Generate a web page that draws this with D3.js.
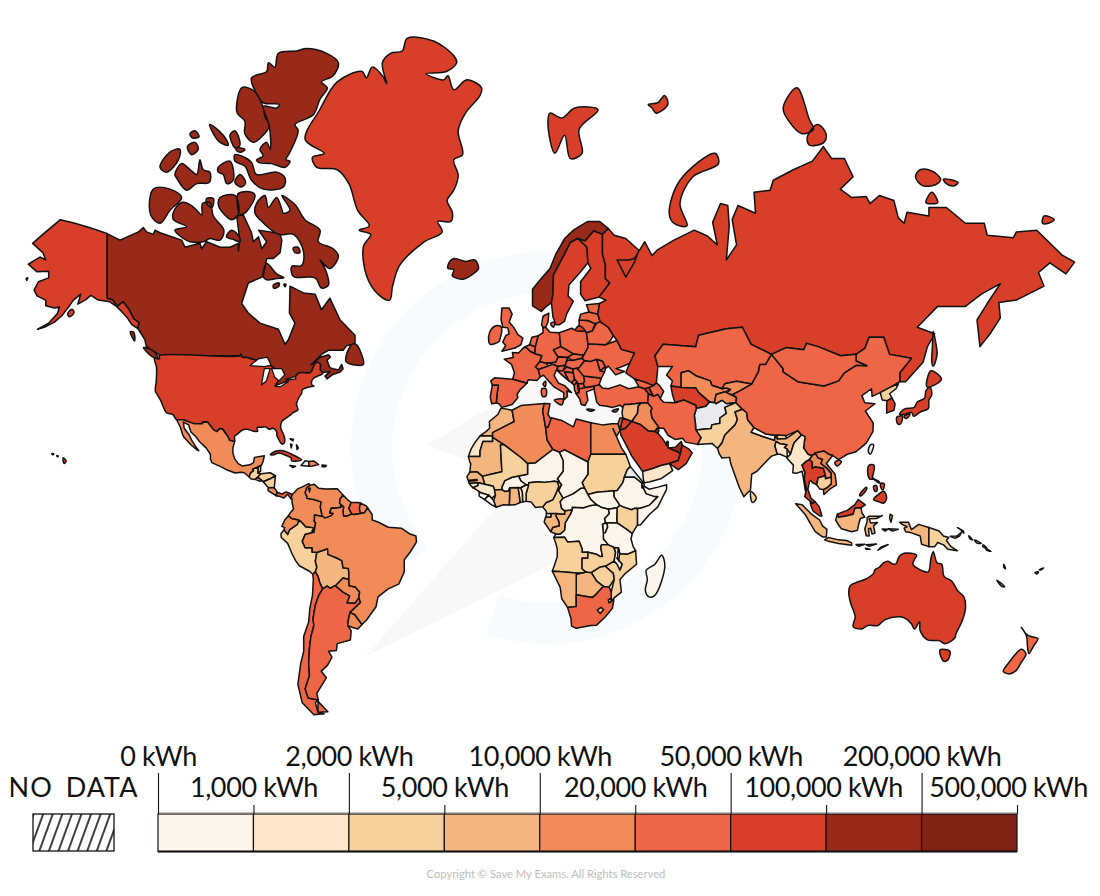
<!DOCTYPE html>
<html>
<head>
<meta charset="utf-8">
<script src="https://cdn.jsdelivr.net/npm/d3@7"></script>
<style>
body{margin:0;background:#fff}
svg{display:block}
text{font-family:Lato,"Open Sans",sans-serif}
</style>
</head>
<body>
<svg width="1100" height="896"></svg>
<script>
// legend steps, kWh per person per year
var breaks=[0,1000,2000,5000,10000,20000,50000,100000,200000,500000];
var majorTicks=[0,2000,10000,50000,200000];
var minorTicks=[1000,5000,20000,100000,500000];
var colours=["#fdf5e9","#fde6c9","#f7d19c","#f4b57f","#f18c59","#ee6646","#d73f29","#992a1a","#7f2315"];
var noDataColour="#e8eaee";

var countries=[
"Canada","USA","Greenland","Iceland","Mexico","Guatemala","Belize","Honduras","El Salvador","Nicaragua","Costa Rica","Panama","Cuba","Haiti","Dominican Rep","Jamaica","Puerto Rico","Bahamas",
"Colombia","Venezuela","Guyana","Suriname","French Guiana","Ecuador","Peru","Bolivia","Chile","Argentina","Paraguay","Uruguay","Brazil",
"Norway","Sweden","Finland","Denmark","UK","Ireland","France","Spain","Portugal","Belgium","Netherlands","Germany","Poland","Czechia","Slovakia","Austria","Switzerland","Italy","Slovenia","Hungary","Croatia","Bosnia","Serbia","Montenegro","Albania","North Macedonia","Greece","Bulgaria","Romania","Moldova","Ukraine","Belarus","Lithuania","Latvia","Estonia","Svalbard",
"Russia","Kazakhstan","Uzbekistan","Turkmenistan","Kyrgyzstan","Tajikistan","Afghanistan","Pakistan","India","Nepal","Bhutan","Bangladesh","Sri Lanka","China","Mongolia","North Korea","South Korea","Japan","Taiwan","Myanmar","Thailand","Laos","Vietnam","Cambodia","Malaysia","Indonesia","Papua New Guinea","Philippines","Pacific Islands",
"Turkey","Georgia","Armenia","Azerbaijan","Iran","Iraq","Syria","Jordan","Israel","Saudi Arabia","Qatar","Kuwait","UAE","Oman","Yemen","Cyprus",
"Morocco","Western Sahara","Mauritania","Algeria","Tunisia","Libya","Egypt","Sudan","South Sudan","Eritrea","Ethiopia","Djibouti","Somalia","Kenya","Uganda","Rwanda","Tanzania","DR Congo","Congo","Gabon","Equatorial Guinea","Cameroon","CAR","Chad","Niger","Nigeria","Benin","Togo","Ghana","Burkina Faso","Mali","Senegal","Gambia","Guinea-Bissau","Guinea","Sierra Leone","Liberia","Ivory Coast","Angola","Zambia","Malawi","Mozambique","Zimbabwe","Botswana","Namibia","South Africa","Lesotho","Eswatini","Madagascar",
"Australia","New Zealand"];
var kwh=[
110000,79000,60000,160000,17000,4500,7000,4800,4200,4500,12000,25000,55000,null,12000,9000,60000,30000,
12000,17000,15000,25000,15000,14000,4900,8000,30000,28000,14000,15000,16000,
115000,60000,62000,35000,30000,35000,40000,35000,28000,48000,45000,40000,30000,45000,33000,38000,30000,30000,40000,25000,24000,30000,28000,24000,24000,24000,30000,30000,24000,24000,28000,30000,30000,24000,45000,60000,
60000,45000,18000,55000,15000,14000,null,4500,7000,900,4500,1800,4500,28000,25000,4000,65000,52000,null,1800,56000,15000,14000,4800,55000,8000,4500,51000,null,
25000,27000,58000,45000,35000,14000,8500,60000,35000,82000,250000,120000,130000,85000,1800,30000,
8000,1500,7000,16000,25000,28000,17000,4000,600,null,700,1500,500,4000,800,600,600,500,8000,8500,null,4500,400,300,800,4500,1500,1800,5200,800,4500,7000,1800,1500,1200,400,500,7500,4500,4500,600,4000,4000,8000,8000,33000,4500,4500,600,
65000,42000];

// outlines as lon,lat, rings split by |
var outlines={
"USA":"-141,69.6 -141,60.3 -139,60 -137.5,58.9 -135.5,59.7 -133.5,58.4 -131.8,56.6 -130,55.9 -130.5,54.8 -132.5,55.5 -134,56.8 -136,58 -138,59 -140,59.7 -144,60 -146.5,60.8 -148.5,60 -151,59.3 -150,61 -152.5,60 -154,58.9 -156.5,57.2 -159,56 -162.5,55 -164.8,54.6 -161,55.8 -158,57.6 -157.3,58.8 -159,58.6 -162,59 -162,60 -165,60.7 -166,61.7 -164.5,63 -161,63.6 -161,64.6 -165,64.5 -168,65.6 -164,66.6 -162,66.2 -163,67.2 -166.5,68.4 -163,69.5 -157,71.2 -152,70.8 -146,70.2|-123,49 -95.2,49 -95.1,49.4 -94.6,48.7 -93,48.6 -91,48.2 -89.5,48 -88.3,48.3 -84.9,46.9 -84.5,46.5 -83.5,46 -83.6,45.8 -82.5,45.3 -82.1,43.6 -82.4,43 -82.5,42.6 -83.1,42.1 -82.7,41.7 -81,42.2 -79,42.7 -79,43.3 -79.2,43.5 -76.8,43.6 -76.3,44.2 -75,45 -71.5,45 -70.8,45.4 -70,46.7 -69.2,47.45 -68.3,47.35 -67.8,47.05 -67.8,45.7 -67.2,45.2 -67,44.8 -69,44.1 -70.2,43.6 -70.8,42.8 -70.6,41.9 -70,41.7 -71.4,41.5 -72.8,41.2 -74,40.7 -74.2,39.8 -75,38.9 -75.9,37.2 -76,36.9 -75.5,35.3 -77,34.6 -78,33.9 -79.2,33.2 -81,32 -81.4,30.8 -81.3,29.8 -80.5,28.3 -80,26.8 -80.2,25.5 -81,25.2 -81.8,26.2 -82.7,27.8 -82.8,29 -84,30 -85.3,29.7 -86.5,30.4 -88,30.3 -89.5,30.2 -89.3,29.1 -91,29.2 -93,29.7 -94.7,29.4 -96,28.4 -97.2,27.6 -97.2,26 -99,26.4 -99.5,27.5 -100.4,28.6 -101.4,29.8 -102.5,29.8 -103.2,29 -104.5,29.6 -106.5,31.8 -108.2,31.8 -108.2,31.3 -111,31.3 -114.8,32.5 -117.1,32.5 -118.4,34 -120.6,34.5 -121.9,36.6 -122.5,37.8 -123.8,39.5 -124.4,40.4 -124.1,43 -124,46.3 -124.7,48.4 -123,48.3|-154.5,57.5 -153,58.4 -152.3,57.8 -153.8,57|-160,22.2 -159.3,22.2 -159.4,21.8|-158.2,21.6 -157.7,21.4 -158,21.2|-156,20.9 -155,19.8 -155.7,19 -156,19.7|-168.7,63.5 -168.2,63.6 -168.5,63.2",
"Canada":"-141,69.6 -136.5,68.8 -130.2,69.8 -128.5,70.3 -127.4,69.8 -125.1,69.5 -124.5,70 -122.8,69.7 -115.4,68.8 -114.2,67.9 -109.1,68.4 -108.5,67.7 -106.8,68.6 -102.2,67.9 -98.8,67.9 -95.9,68.4 -95.9,67.4 -95.4,68.8 -96.5,71.6 -94.2,71.7 -91.4,69.7 -90.8,68.6 -89,69.2 -87.9,67.7 -86.2,68.6 -89,70 -85,69.8 -81.6,69.5 -81,68.8 -81.6,67.2 -83.9,66.4 -86.2,66.4 -87.4,63.8 -92.5,62.8 -94.8,59.4 -92.5,57.7 -88.5,55.8 -82.2,54.6 -79.9,51.5 -78.8,52.4 -76.5,55.8 -78.4,57.7 -78.2,62.3 -73.6,61.2 -69.6,61 -67.4,58.3 -64.5,60.3 -61,56.4 -55.9,53.4 -55.9,51.7 -58.8,51.2 -60,50.2 -65,50.2 -67,49.5 -69,48.2 -71,46.9 -70,47.3 -68,48.6 -65,49.2 -64.3,48.7 -65.5,48 -65,47 -64.5,46.2 -63.5,46 -61.5,45.7 -60.5,47 -60,46 -61,45.2 -63.5,44.6 -65.5,43.5 -66.2,44.2 -64.5,45.3 -67,45.1 -67.2,45.2 -67.8,45.7 -67.8,47.05 -68.3,47.35 -69.2,47.45 -70,46.7 -70.8,45.4 -71.5,45 -75,45 -76.3,44.2 -76.8,43.6 -79.2,43.5 -79,43.3 -79,42.7 -81,42.2 -82.7,41.7 -83.1,42.1 -82.5,42.6 -82.4,43 -82.1,43.6 -82.5,45.3 -83.6,45.8 -83.5,46 -84.5,46.5 -84.9,46.9 -88.3,48.3 -89.5,48 -91,48.2 -93,48.6 -94.6,48.7 -95.1,49.4 -95.2,49 -123,49 -123.2,49.3 -125,50 -127.5,51 -128,52.5 -130,54.4 -130.5,54.8 -130,55.9 -131.8,56.6 -133.5,58.4 -135.5,59.7 -137.5,58.9 -139,60 -141,60.3|-89.7,72.9 -86.8,73.7 -85.6,72.5 -82.8,73.5 -81,72.3 -80.5,71.9 -78.2,72.2 -81,73.7 -76.5,72.8 -73.1,71.2 -67.9,70 -68.5,68.6 -63.4,67.7 -61.6,66.7 -64.5,65 -67.9,66.2 -66.2,65 -65,62.5 -67.4,62 -69.6,63.6 -77,63.8 -77.6,65.3 -74.2,65.4 -73.6,67.4 -77,69.5 -82.2,69.5 -88.5,71.2 -90.2,71.9|-118.2,72 -115.4,73 -112.5,72.8 -110.2,72.2 -108.5,71.7 -108.2,72.9 -105.7,73 -104.5,71.6 -100.9,70 -102.2,68.8 -105.7,69 -107.9,68.6 -112.5,68.6 -114.8,69 -117.7,70 -113.7,70.4 -118.2,71.2|-125.1,74.3 -119.4,74.3 -115.4,73.5 -119.4,72.2 -122.8,70.8 -126,71.7|-117.7,75.6 -115.4,76.5 -112,75.9 -110.2,75.6 -109.1,76.8 -108,76 -105.7,75.8 -105.9,74.9 -110.2,74.8 -113.7,74.2 -117.1,75.3|-122.8,76.2 -119.4,77.4 -116,77.6 -116.5,76.8 -120.5,75.8|-113.4,77.8 -110.8,78.1 -109.7,77.6 -112,77.2|-112.5,78.7 -110.8,78.9 -109.4,78.5 -111.6,78.4|-105.7,79.3 -101.1,78.6 -99.4,77.9 -102.2,78.1 -104.5,78.7|-98.8,78.6 -97.1,78.9 -95.4,77.9 -97.1,77.7 -98.2,78.1|-96.7,77.7 -93.7,77.6 -94.8,77.4 -96.5,77.5|-102.8,76.2 -98.8,76.7 -97.7,75.1 -99.9,74.8 -101.1,75.6 -102.8,75.8|-95.4,75.6 -93.4,74.9 -94.8,74.5 -97.1,74.9|-97.1,77.2 -94.8,77.1 -91.4,76.6 -89.7,75.6 -82.8,75.8 -79.9,75.3 -80.5,74.5 -87.4,74.3 -91.4,75.1 -93.7,76.3 -97.1,76.7|-95.9,73.9 -91.4,74 -90.2,73.7 -93.7,71.9 -95.4,71.8 -96.3,72.9|-102.2,73.5 -97.1,73.7 -95.9,71.8 -98.2,71.2 -101.1,71.9 -102.8,72.8|-106.8,73.4 -104.5,73.4 -105,72.5 -106.8,72.9|-100,69.2 -98.2,70 -95.6,69.2 -95.4,68.6 -97.7,68.9|-94.8,81.4 -92.5,81.4 -89.7,81.1 -87.4,80.3 -86.8,79.8 -85.3,79.2 -87.9,78.5 -90.8,78.1 -93.7,78.7 -93.7,79.5 -96.3,80 -96.5,80.5|-91.4,81.9 -86.2,82.2 -85.6,82.6 -83.4,82.4 -82.2,83 -75.9,83.1 -72.5,83.2 -65.6,83 -61.6,82.6 -63.4,82 -67.4,81.7 -65.4,81.4 -67.9,80.8 -70.2,79.9 -76.5,79.3 -75.4,78.9 -78.2,77.4 -79.6,76.8 -78.2,76.7 -79.9,76.2 -84.5,76.5 -89,76.6 -89.7,76.8 -87.4,77.1 -88.5,77.6 -86.2,78.1 -85,77.6 -85.3,79.2 -86.8,80 -87.4,80.4 -82.8,80.3 -81.9,80.5 -87.4,80.6 -89.7,81.1|-86.2,65.7 -82.8,64.2 -80.3,63.6 -82.8,63.5 -86.2,63.3 -87.4,63.8|-83.9,62.5 -81.9,62.8 -82.2,62.2 -83.8,62|-80.3,62.6 -79.6,62.6 -79.9,62.2|-77.1,67.8 -75.5,67.9 -74.8,67.2 -76.5,67.2|-59,47.7 -57,51.5 -55.5,51.5 -53,47 -55,46.8|-128.5,50.8 -125,50 -123.5,48.4 -125.5,48.8|-133,54.1 -131.8,54 -131.5,52.2",
"Greenland":"-73,78.3 -68,80.2 -62,81.7 -53.5,82.2 -52,81.9 -50,82.4 -46.5,82 -45,81.6 -46.5,82.6 -43.7,83 -39.7,83.1 -38,83.6 -29,83.5 -22,82.9 -21,82.6 -24.5,82.2 -31.5,82.1 -25.5,81.8 -24,82 -22,81.3 -17.5,81.8 -12.5,81.4 -13,81 -18,80 -20.5,78.9 -19,77.2 -22,76.8 -20.5,75.5 -22,74.2 -24.3,73.2 -22.5,72 -23,71 -27.5,71 -26,69.8 -32.5,68.5 -40.5,65.5 -43,62.3 -44,60 -48,61 -52,64 -53,68 -50.5,69.5 -54.5,70 -51,70.5 -55,72.2 -58,74.8 -62,76 -69,76.2 -70.5,77 -66.5,77.3",
"Iceland":"-24,65.5 -22,66.4 -18,66 -14.8,66.2 -13.5,65 -16,64 -18.7,63.4 -22.5,63.9 -22,64.8 -24,65",
"Mexico":"-117.1,32.5 -114.8,32.5 -111,31.3 -108.2,31.3 -108.2,31.8 -106.5,31.8 -104.5,29.6 -103.2,29 -102.5,29.8 -101.4,29.8 -100.4,28.6 -99.5,27.5 -99,26.4 -97.2,26 -97.8,24 -97.8,22.5 -97.2,20.6 -96,19 -94.5,18.2 -92,18.6 -90.7,19.3 -90.4,21 -87,21.5 -87.5,19.5 -88,18.5 -89.1,17.9 -91,17.2 -90.7,16.6 -91.7,16 -92.2,14.6 -93.9,16 -95,16.2 -97,15.9 -100,17 -102,18 -105,19.3 -105.5,20.5 -105.5,22 -107,24 -109.3,26 -110.5,27.5 -112.2,28.9 -113,31 -114.8,31.8 -114.5,30 -112.8,28 -112,26.5 -110.5,24.3 -109.5,23.1 -110.3,23.5 -112.2,25 -114.5,27.2 -115,28 -115.8,30.3",
"Guatemala":"-92.2,14.6 -91.7,16 -90.7,16.6 -91,17.2 -89.1,17.9 -89.2,15.9 -88.2,15.7 -89.3,14.5 -90.1,13.8 -91.5,13.9",
"Belize":"-89.1,17.9 -88.2,18.4 -88.3,16.5 -89.2,15.9",
"Honduras":"-88.2,15.7 -85,16 -83.2,15 -85,14 -87.4,13 -87.8,13.4 -89.3,14.5",
"El Salvador":"-90.1,13.8 -89.3,14.5 -87.8,13.4 -88.5,13.2",
"Nicaragua":"-87.4,13 -85,14 -83.2,15 -83.6,11 -85.7,11.1",
"Costa Rica":"-85.7,11.1 -83.6,11 -82.6,9.5 -83,8.3 -85.7,10",
"Panama":"-83,8.3 -82.6,9.5 -81,8.9 -79.5,9.6 -77.4,8.7 -77.9,7.3 -79,8.8 -80.3,7.5 -81.5,8",
"Cuba":"-85,21.9 -83,23 -80.5,23.1 -77,21.7 -74.2,20.2 -77.7,19.9 -77.8,20.8 -79.5,21.6 -82,22.4 -84,21.8",
"Haiti":"-74.4,18.4 -73,19.9 -71.7,19.7 -71.7,18.1",
"Dominican Rep":"-71.7,19.7 -70,19.8 -68.4,18.7 -70.5,18.2 -71.7,18.1",
"Jamaica":"-78.3,18.4 -76.3,18.1 -77.2,17.7",
"Puerto Rico":"-67.2,18.5 -65.7,18.4 -66,18 -67.2,18",
"Bahamas":"-78.2,26.8 -77,26.7 -77.2,26.2|-78,25.2 -77.5,25 -77.8,24|-76,25 -75.3,24 -75.8,23.5",
"Colombia":"-77.4,8.7 -75.6,10.6 -74,11.3 -71.7,12.4 -71.3,11.8 -72.4,11 -73,9.3 -72.4,8 -72.4,7.4 -70,7 -67.5,6.2 -67.8,4.5 -67.3,2 -67,1.2 -69.8,1.7 -69.8,0 -70,-0.2 -69.4,-1 -70,-4.2 -70.7,-3.8 -70,-2.7 -72.8,-2.4 -74.5,-0.5 -75.3,0 -77.5,0.4 -78.8,1.4 -78,2.6 -77,3.8 -77.5,6 -77.5,7.2 -77.9,7.3",
"Venezuela":"-71.3,11.8 -70,12.2 -68.3,10.8 -66,10.6 -62,10.7 -60.8,9.4 -60,8.5 -61,7.2 -61.2,5.9 -60.7,5.2 -60.7,4.4 -62.8,4 -64,4.1 -64.6,2.5 -63.4,2.2 -64,1.5 -65.5,0.9 -66.3,0.7 -67,1.2 -67.3,2 -67.8,4.5 -67.5,6.2 -70,7 -72.4,7.4 -72.4,8 -73,9.3 -72.4,11",
"Guyana":"-60,8.5 -58.5,7 -57.2,6 -58,4 -57,2 -58.8,1.3 -59.8,1.3 -60,2.5 -60,3.3 -59.8,4.5 -60.7,5.2 -61.2,5.9 -61,7.2",
"Suriname":"-57.2,6 -55,6 -54,5.8 -54.4,4 -54,2.2 -56,1.9 -57,2 -58,4",
"French Guiana":"-54,5.8 -52,4.8 -51.6,4.2 -52.6,2.5 -54,2.2 -54.4,4",
"Ecuador":"-80,0 -78.8,1.4 -77.5,0.4 -75.3,0 -75.3,-0.5 -75.6,-1.5 -78.3,-3.4 -79,-5 -80.3,-3.4 -80,-2.6 -81,-2.2",
"Peru":"-81.3,-4.7 -80.3,-3.4 -79,-5 -78.3,-3.4 -75.6,-1.5 -75.3,-0.5 -74.5,-0.5 -72.8,-2.4 -70,-2.7 -70.7,-3.8 -70,-4.2 -73,-5 -74,-7.3 -73,-9.5 -70.6,-9.5 -70.6,-11 -69,-11 -69.5,-14 -69,-16 -69.5,-17.5 -70.4,-18.3 -71.4,-17.4 -75,-15.5 -76.3,-13.8 -77.5,-11.5 -79,-8 -81.2,-6",
"Bolivia":"-69,-11 -68.8,-11 -65.3,-9.8 -65.2,-11.7 -62,-13 -60.4,-13.8 -60,-16.2 -58.2,-16.4 -58,-17.8 -58,-20 -60,-19.5 -62.6,-22 -63,-22 -64.3,-22.8 -65.5,-22.1 -67,-23 -68,-21 -68.6,-19 -69.5,-17.5 -69,-16 -69.5,-14",
"Chile":"-69.5,-17.5 -68.6,-19 -68,-21 -67,-23 -68.3,-25 -69.5,-28 -70.3,-32 -70,-34 -71,-37 -71.5,-40 -71.8,-44 -71.5,-47 -73,-50 -72,-52 -68.5,-52.4 -69.5,-53 -68.6,-54.9 -66.5,-55.2 -70,-55.4 -74,-53 -75.5,-49 -74.5,-44 -73.5,-41 -73.5,-37 -71.8,-33 -71.4,-29 -70.5,-25 -70.2,-20 -70.4,-18.3",
"Argentina":"-65.5,-22.1 -64.3,-22.8 -63,-22 -62.6,-22 -60,-24 -57.7,-25.2 -58.6,-27.3 -55.9,-27.4 -54.6,-25.7 -54,-27.2 -57.6,-30.2 -58.2,-32.5 -58.4,-34 -57.2,-35.5 -57.5,-38 -62,-39 -62.3,-40.8 -65,-41 -63.8,-42.5 -65.3,-44.5 -67.5,-46 -65.7,-47.5 -69,-51 -68.5,-52.4 -72,-52 -73,-50 -71.5,-47 -71.8,-44 -71.5,-40 -71,-37 -70,-34 -70.3,-32 -69.5,-28 -68.3,-25 -67,-23|-68.6,-52.7 -68.6,-54.9 -65.2,-54.8",
"Paraguay":"-62.6,-22 -60,-19.5 -58,-20 -57.9,-22 -55.8,-22.4 -54.3,-24 -54.6,-25.7 -55.9,-27.4 -58.6,-27.3 -57.7,-25.2 -60,-24",
"Uruguay":"-58.4,-34 -58.2,-32.5 -57.6,-30.2 -56,-30.8 -53.5,-33.7 -54.9,-35 -57,-34.5",
"Brazil":"-51.6,4.2 -50,1.8 -50,0 -48,-0.7 -44.5,-2.5 -40,-2.8 -37,-4.8 -35,-5.5 -34.8,-7.5 -37,-11 -39,-13.5 -39,-17.5 -40.9,-21.5 -44.5,-23 -48,-25.5 -48.7,-28.5 -52,-32.5 -53.5,-33.7 -56,-30.8 -57.6,-30.2 -54,-27.2 -54.6,-25.7 -54.3,-24 -55.8,-22.4 -57.9,-22 -58,-20 -58,-17.8 -58.2,-16.4 -60,-16.2 -60.4,-13.8 -62,-13 -65.2,-11.7 -65.3,-9.8 -68.8,-11 -70.6,-11 -70.6,-9.5 -73,-9.5 -74,-7.3 -73,-5 -70,-4.2 -69.4,-1 -70,-0.2 -69.8,0 -69.8,1.7 -67,1.2 -66.3,0.7 -65.5,0.9 -64,1.5 -63.4,2.2 -64.6,2.5 -64,4.1 -62.8,4 -60.7,4.4 -60.7,5.2 -59.8,4.5 -60,3.3 -60,2.5 -59.8,1.3 -58.8,1.3 -57,2 -56,1.9 -54,2.2 -52.6,2.5",
"Norway":"5,59 5,61.8 8,63.5 11,65 13,67 16,69 19,70 24,71 28,71 31,70.2 29,69.5 26,69.9 23,68.7 20.5,69 18,68.5 16,67 14,65.5 12.2,64 12,61 11.5,59.5 10,59 8,58",
"Sweden":"11.5,59.5 12,61 12.2,64 14,65.5 16,67 18,68.5 20.5,69 23.7,67.9 24,65.8 21.5,64.5 17.5,62.5 17.2,60.7 19,59.8 16.7,57.5 16,56.2 14.3,55.5 13,55.5 12,57",
"Finland":"20.5,69 23,68.7 26,69.9 29,69.5 29,67 30,65.5 30,63.5 31.5,62.8 27.8,60.5 23,59.9 21.5,61 21.5,63 25,65 24,65.8 23.7,67.9",
"Denmark":"8.1,55.5 8.6,57.1 10.6,57.7 10.3,56 9.5,55 8.6,54.9|11.2,55.7 12.5,56 12.2,55",
"UK":"-5.5,58.6 -3,58.6 -2,57.5 -3,56 -1.5,55 0,53.5 1.7,52.8 1,51.4 -1,50.7 -5.5,50 -4.2,51.2 -5.2,52 -4.2,53.3 -3,53.7 -3.5,54.9 -5.2,55 -5.8,56.5",
"Ireland":"-10,52 -9.7,54 -8,55.2 -6,55.2 -5.5,54.5 -6,53 -6.5,52.1 -9.5,51.5",
"France":"2.5,51 4.2,50 5.8,49.5 8.2,49 7.5,47.6 6,46.4 7,45.8 7.6,44 6.5,43.1 3.5,43.3 3.1,42.4 -1.8,43.4 -1.2,45 -2.2,47 -4.7,48.2 -1.6,48.6 -1.9,49.7 0.2,49.6 1.5,50.5|8.6,42.2 9.5,42.9 9.4,41.5",
"Spain":"-9.3,43 -8,43.8 -1.8,43.4 3.1,42.4 0.7,40.7 -0.3,39.5 0,38.7 -2,36.8 -5.5,36 -6.5,37 -7.4,37.2 -7.2,39.5 -6.7,41.9 -8.8,41.9",
"Portugal":"-8.8,41.9 -6.7,41.9 -7.2,39.5 -7.4,37.2 -9,37 -9.5,38.8",
"Belgium":"2.5,51 4,51.4 6,51 5.8,49.5 4.2,50",
"Netherlands":"4,51.4 4.8,53 7,53.3 6,51",
"Germany":"6,51 7,53.3 8.6,53.9 8.6,54.9 9.5,55 11,54 14.2,53.9 14.7,51 12.2,50.3 13.8,48.7 13,47.5 9.6,47.3 7.5,47.6 8.2,49 5.8,49.5",
"Poland":"14.2,53.9 18.5,54.8 19.7,54.4 23,54.3 23.5,53.9 23.8,52.7 24,51.6 24,50.8 22.6,49.1 19,49.4 14.7,51",
"Czechia":"12.2,50.3 14.7,51 19,49.4 17,48.6 14.7,48.7 13.8,48.7",
"Slovakia":"17,48.6 19,49.4 22.6,49.1 22,48.4 18.8,47.9",
"Austria":"9.6,47.3 13,47.5 13.8,48.7 17,48.6 16.2,46.8 13.7,46.5 12,47",
"Switzerland":"6,46.4 7.5,47.6 9.6,47.3 10.4,46.6 7,45.8",
"Italy":"7,45.8 10.4,46.6 12,47 13.7,46.5 12.4,44.3 14,42.4 16,41.8 18.4,40 16.8,40.4 17,39 15.7,38 15.7,40 12.5,41.4 10.5,43 8.8,44.4 7.6,44|8.2,41 9.6,41 9.6,39.1 8.4,39|12.5,38 15.5,38.2 15,36.7",
"Slovenia":"13.7,46.5 16.2,46.8 15.5,45.5 13.6,45.5",
"Hungary":"16.2,46.8 17,48 18.8,47.9 22,48.4 22.9,47.9 21,46.2 18.8,45.9 16.7,46.4",
"Croatia":"13.6,45.5 15.5,45.5 16.7,46.4 18.8,45.9 19,45 16,45.2 17.5,43 15,44.5",
"Bosnia":"16,45.2 19,45 19.4,43.5 18.5,42.5 17.5,43",
"Serbia":"19,45 18.8,45.9 20.3,46.1 22.5,44.5 22.9,43 22.4,42.3 20.7,42.3 19.4,43.5",
"Montenegro":"18.5,42.5 19.4,43.5 20.3,42.8 19.3,41.9",
"Albania":"19.3,41.9 20.3,42.8 20.6,41 21,40 20,39.7 19.4,40.7",
"North Macedonia":"20.7,42.3 22.4,42.3 23,41.3 21,40.9",
"Greece":"20,39.7 21,40 21,40.9 23,41.3 26.2,41.7 26,40.9 23.5,40.2 24,38 23,36.5 21.7,36.8 21.2,38.3|23.6,35.5 26.3,35.3 24.8,34.9",
"Bulgaria":"22.9,43 22.5,44.2 27.7,43.8 28.6,43.6 27.8,42 26.2,41.7 23,41.3 22.4,42.3",
"Romania":"21,46.2 22.9,47.9 24.9,47.7 27,48.2 28.2,45.5 29.7,45.2 28.6,43.6 27.7,43.8 22.5,44.2 20.3,46.1",
"Moldova":"27,48.2 29,47.8 30,46.5 28.2,45.5",
"Ukraine":"24,51.6 30,51.4 34,52.3 35.5,50.4 40,49.6 38.3,47.2 35,46.3 33.6,46 36.5,45.3 33.5,44.5 32.5,45.4 31,46.6 30,46 29.7,45.2 28.2,45.5 30,46.5 29,47.8 27,48.2 24.9,47.7 22.9,47.9 22,48.4 22.6,49.1 24,50.8",
"Belarus":"23.8,52.7 23.5,53.9 25.5,54.3 27,55.8 28.2,56.1 31,55 32.8,53.3 31.5,52.1 30,51.4 24,51.6",
"Lithuania":"21,55.3 21,56.4 24,56.3 26.5,55.7 25.5,54.3 23.5,53.9 23,54.3",
"Latvia":"21,56.4 21.5,57.5 24.4,57.9 27.4,57.5 28.2,56.1 26.5,55.7 24,56.3",
"Estonia":"23.5,59.2 28,59.4 27.4,57.5 24.4,57.9",
"Svalbard":"11,80 15,79.7 19.5,80.3 27.5,80.2 21,79 22,77.3 18,76.9 16,78.6 12.7,77.3 10.3,79.3",
"Russia":"31,70.2 33,69.4 37,69 41.5,67.5 40,65.9 37,63.7 34,66.2 38,66.2 40,66.4 43.5,68.6 46,66.8 48,67.6 53.5,68.8 60.5,70 65,69.3 68.4,68.2 66.8,70.9 69.5,72.9 72,72.7 72.5,70.5 71.5,66.2 75,68.2 73.5,71.2 75.5,72.7 81.5,71.9 81,74 86.5,74.2 87.6,75.1 94.5,76 101,76.7 104.8,77.8 107.6,76.9 112,76.9 115,75.4 110.6,74.3 114.5,73.5 119.5,73.6 120.8,72.9 124,73.7 129,73.2 130.5,71.4 132.5,70.8 133.5,72 141,71.6 141,72.5 147,72.5 153.5,70.8 160,70.8 161,69.4 170,69.1 171,69.8 178,70 186.6,66.9 191,65.9 188,64.2 182.5,65.8 178.6,64.4 180.5,62.3 171,60 165,59.6 165.5,56.8 162,53.7 158.5,51 157.5,56.4 161,59.4 165.5,62.7 159,61 153.5,58.9 144,58.9 137,55 143,53.7 140.5,51 139,47.5 133,42.8 131,42.8 131,45 135,48.4 127.5,49.3 125.5,53 120.5,53 119,50.6 116,49.3 110.7,49 103,51 99,51.7 98,50.3 92,50.8 87,49.3 80,51.5 77,55 71.5,54.7 62,53.4 61,51 49.8,51.5 47,49 48,46.5 47.5,42.5 46.5,41.8 43.5,42.7 40,43.5 37,45 38.3,47.2 40,49.6 35.5,50.4 34,52.3 32.8,53.3 31,55 28.2,56.1 27.4,57.5 28,59.4 30.2,60 27.8,60.5 31.5,62.8 30,63.5 30,65.5 29,67 29,69.5|51.9,71.9 55.6,75.1 67.6,77.3 68.8,76.5 60,75.4 55.6,72.9 58,70.5 53.5,70.8|91,80.3 95.7,81.4 100,79.6 101.4,79 97.5,78.7 93,79.5|102.8,79.3 105.7,78.7 105,78.1 100,77.9 99.3,78.5|44.7,80.5 48,80.6 50.3,81 51.4,80.5 47.4,80 46,80.3|136.4,75.4 138,76 142,75.9 145,75.2 144,74.8 139,74.6|146,75.2 151,74.9 149.7,74.6 147,74.8|140,73 142,74 144,73|180,70.8 180.5,71.6 184,71.2 182,70.8|142.5,54.2 143.3,52 143.8,49.3 142.5,46.6 142,47.5 142.2,51|19.7,54.4 21,55.3 23,54.3",
"Kazakhstan":"87,49.3 85,47 83,47 82.5,45.2 80.2,42.2 75,42.9 71,42.3 70,41 66.5,41.9 66,43 61,44.3 58.5,45.5 56,45 56,41.3 52.5,41.7 53,43 51,44.5 53,46.5 49.5,46.5 48,46.5 47,49 49.8,51.5 61,51 62,53.4 71.5,54.7 77,55 80,51.5",
"Uzbekistan":"56,45 58.5,45.5 61,44.3 66,43 66.5,41.9 70,41 71.5,41.2 73,40.8 71,40.2 68,39.5 67.4,37.3 65.7,37.5 62,40 61,41.2 56,41.3",
"Turkmenistan":"52.5,41.7 56,41.3 61,41.2 62,40 65.7,37.5 64.5,36.3 61.2,35.7 61,36.6 57,38 53.9,37.3 53,39.5",
"Kyrgyzstan":"71,42.3 75,42.9 80.2,42.2 76,40.4 73.7,39.5 71,39.5 73,40.8 71.5,41.2 70,41",
"Tajikistan":"68,39.5 71,40.2 73,39.5 75,38.7 74.8,37.3 71.5,37 70,37.9 68,37 67.4,37.3",
"Afghanistan":"61.2,35.7 64.5,36.3 65.7,37.5 67.4,37.3 68,37 70,37.9 71.5,37 74.8,37.3 71,36 71.5,34.3 69.3,33 69.3,31.5 66.5,31 66.3,29.9 61,29.5 60.9,31.4 60.5,33.7",
"Pakistan":"61,29.5 66.3,29.9 66.5,31 69.3,31.5 69.3,33 71.5,34.3 71,36 74.8,37.3 77,35.5 74.5,34.7 75.3,32.5 74.5,31 71,28 70,25.5 68.5,23.8 66.6,25.4 61.6,25.1 62.8,27.2",
"India":"77,35.5 78.5,34.5 78.8,32.5 81,30.2 80,28.8 84,27.5 88,26.4 88.2,27.9 89,26.8 92,26.9 96,29.3 97.3,28 94.7,25.5 93.5,22 92.3,23.7 91.4,24.1 92.3,25 89.8,25.3 88.5,26 88.2,24.5 89,22 87,21.4 85,19.5 82,16.5 80.2,15.5 80,13 79.8,10.3 77.5,8 76,11 74.5,15 73,19 72.6,21 70,20.8 69,22.3 68.5,23.8 70,25.5 71,28 74.5,31 75.3,32.5 74.5,34.7",
"Nepal":"80,28.8 81,30.2 85,28.3 88.2,27.9 88,26.4 84,27.5",
"Bhutan":"89,26.8 88.9,28 92,27.8 92,26.9",
"Bangladesh":"88.2,24.5 88.5,26 89.8,25.3 92.3,25 91.4,24.1 92.3,23.7 92.4,21 90,22 89,22",
"Sri Lanka":"80,9.7 81.8,7.5 80.5,6 79.8,8",
"China":"87,49.3 91,46 91,45.2 96,42.8 105,41.7 110,43 112,45 116,46.8 119.7,46.7 116,47.8 116,49.3 119,50.6 120.5,53 125.5,53 127.5,49.3 135,48.4 131,45 131,42.8 128,41.5 124.3,40 121.5,39 121.3,41 118,39.2 119,37.3 122.5,37 119.2,35 121.9,31.5 121.8,29 119.5,25.5 116,22.8 113,22 110,20.3 108,21.6 106.6,22 105,23 102,22.4 101,21.5 99.5,22 98,24 98.5,27.5 97.3,28 96,29.3 92,27.8 88.9,28 88.2,27.9 85,28.3 81,30.2 78.8,32.5 78.5,34.5 77,35.5 74.8,37.3 75,38.7 73.7,39.5 76,40.4 80.2,42.2 82.5,45.2 83,47 85,47|108.7,19.3 110,20.1 111,19.6 109.5,18.2",
"Mongolia":"87,49.3 92,50.8 98,50.3 99,51.7 103,51 110.7,49 116,49.3 116,47.8 119.7,46.7 116,46.8 112,45 110,43 105,41.7 96,42.8 91,45.2 91,46",
"North Korea":"124.3,40 128,41.5 130.6,42.3 129.7,41 127.5,39.7 128.3,38.6 126.7,37.8 125,38",
"South Korea":"126.7,37.8 128.3,38.6 129.4,37 129,35.2 126.5,34.4 126.5,37",
"Japan":"130.9,34 132.5,35.5 136,36 137,37.5 139.5,38.5 140,40.5 141.4,41.4 142,39.5 141,38 140.8,35.7 138,34.7 135.8,33.5 135,34.6 132.5,34|140.3,41.5 141.7,45.5 145.3,43.5 143,42|130,33.3 131.9,33.5 131.2,31.2 130.2,31.4|132.5,33.5 134.5,34.2 134,33.3 132.9,32.9",
"Taiwan":"121,25 122,25 120.9,22 120.2,23",
"Myanmar":"92.3,20.7 92.4,21 93.5,22 94.7,25.5 97.3,28 98.5,27.5 98,24 99.5,22 101,21.5 100,20.3 98.9,19.7 97.5,18.5 98.5,16 98.2,14 99,10.5 98.6,10 98,13.8 97.5,16.5 95.5,15.8 94.3,16 94.5,18.5",
"Thailand":"100,20.3 101,19.5 101,17.5 102,18 104.8,17.5 105.5,15 103,14.3 102.5,12 101,12.7 100.5,13.5 100,13 99.5,10.5 100.5,7.5 102,6.2 101,5.7 100.2,6.5 98.4,8 99,10.5 98.2,14 98.5,16 97.5,18.5 98.9,19.7",
"Laos":"101,21.5 102,22.4 103,20.8 104.5,20.4 104,19 106,17.5 107.5,15.8 107.5,14.5 105.5,14 105.5,15 104.8,17.5 102,18 101,17.5 101,19.5 100,20.3",
"Vietnam":"102,22.4 105,23 106.6,22 108,21.6 105.8,19 108.8,15.5 109.3,12 107,10.5 105,8.7 104.8,10.4 106,11 107.5,12.3 107.5,14.5 107.5,15.8 106,17.5 104,19 104.5,20.4 103,20.8",
"Cambodia":"102.5,12 103,14.3 105.5,15 105.5,14 107.5,14.5 107.5,12.3 106,11 104.8,10.4 103.5,10.6",
"Malaysia":"100.2,6.5 101,5.7 102,6.2 103.4,4.5 104.3,1.4 103.5,1.4 101.3,3 100.5,5|109.6,2 111.3,2.7 113,3.3 115.5,5.2 116.8,7 119.2,5.2 117.7,4.2 115.6,4 115,2 112.5,1.4 110,0.9",
"Indonesia":"95.3,5.6 97.5,5.2 100.5,2.2 103.5,0 104.5,-2 106,-3.2 105.8,-5.8 104.5,-5.8 102,-4 100.5,-1.5 98.7,1.7|105.2,-6.8 106.5,-6 110,-6.8 112.8,-7 114.5,-7.8 114.5,-8.6 110,-8 106.5,-7.3|109.6,2 110,0.9 112.5,1.4 115,2 115.6,4 117.7,4.2 118,2.5 119,1 117.5,0.5 117,-1 116.5,-3.5 114.5,-4 111,-3 110,-1.7 109,0|119.8,0.8 120.5,1.3 124.5,1.3 125,1.5 123,0.5 120.5,0.4 121,-1 123.3,-0.9 122,-2 122.5,-4.5 121.5,-4.8 121,-2.8 120.3,-3 120.5,-5.5 119.5,-5.4 119,-3 119.8,-0.5|131,-0.8 134,-0.8 135,-3.3 137.5,-1.5 141,-2.6 141,-9.1 138.5,-8.3 138,-5.5 135,-4.4 133,-4 132.5,-2.8 133.5,-2.3 131.8,-1.5|127.7,2 128.5,1.5 128,-0.8 127.5,0.5|127,-3 130.5,-3.2 128.5,-3.8|125,-3.1 126.8,-3.2 126,-3.8|116,-8.4 119,-8.3 117,-9|119.5,-8.5 123,-8.2 120.5,-9|119.2,-9.6 120.8,-10 119.5,-10|123.5,-10.3 127,-8.4 124.5,-9.3",
"Papua New Guinea":"141,-2.6 144.5,-3.8 146,-5.5 147.8,-6 147,-7 148.5,-9 150.8,-10.5 147.5,-10 146,-8.5 144,-7.7 143,-9.1 141,-9.1|148.3,-5.6 150.5,-5.5 152.2,-4.2 151.5,-5.5 150,-6.3|150.8,-2.6 152.8,-3.7 153,-4.5 151.5,-3",
"Philippines":"120.5,18.5 122.2,18.4 122,16 121.7,14.3 124,13 124,12.6 122,13.8 120.7,13.9 120,16|122,7 123.5,8.6 125.5,9.8 126.5,7.5 125.5,5.8 124,6.2|122,11.5 123,11.7 123.2,10 122.5,9.8|124.5,12.5 125.7,12.3 125.2,10.3 124.5,11|117.2,8.4 119.5,11.2 119.7,10.6 117.6,8.2",
"Pacific Islands":"154.7,-5.4 156,-6.8 155,-6.3|156.6,-6.8 159,-8 157.5,-7.9|159.6,-8.5 161,-9.8 159.5,-9.1|160.5,-9.8 162.3,-10.7 161,-10.4|164.3,-20.2 167,-22.3 166,-22.2|166.7,-15 167.3,-16.5 166.7,-16|177.4,-17.8 178.6,-17.5 178,-18.2|178.8,-16.8 180.4,-16.2 179.4,-16.9",
"Turkey":"26.2,41.7 28,42 29,41.2 31,41 35,42 38,41 41.5,41.5 43.5,41 44.8,39.7 44.5,37.2 42.3,37.2 38,36.8 36.5,36.8 36,36 35,36.6 32.5,36 30.5,36.3 28,36.6 27,37.5 26.5,39.5 26.2,40.5",
"Georgia":"40,43.5 43.5,42.7 46.5,41.8 45,41.3 43.5,41 41.5,41.5",
"Armenia":"43.5,41 45,41.3 46.5,39 44.8,39.7",
"Azerbaijan":"46.5,41.8 47.5,42.5 48.6,41.8 50,40.3 48.8,38.4 48,39.5 46.5,39 45,41.3",
"Iran":"44.8,39.7 46.5,39 48,39.5 48.8,38.4 50,37.4 53.9,37.3 57,38 61,36.6 61.2,35.7 60.5,33.7 60.9,31.4 61,29.5 62.8,27.2 61.6,25.1 57.5,25.8 56.5,27 54,26.6 51.5,27.9 50,30 48.5,30 47.7,31 46,33 45.5,35 46,35.8 44.5,37.2",
"Iraq":"42.3,37.2 44.5,37.2 46,35.8 45.5,35 46,33 47.7,31 48.5,30 47.7,30 47,29 44.7,29.2 42,31.1 39,32 41,34.4 41.2,36.4",
"Syria":"36,36 36.5,36.8 38,36.8 42.3,37.2 41.2,36.4 41,34.4 39,32 36,33 35.7,34.6",
"Jordan":"36,33 39,32 36.9,30 35,29.4 35.5,31.5",
"Israel":"34.3,31.3 35,33 36,33 35.5,31.5 35,29.4",
"Saudi Arabia":"35,29.4 36.9,30 39,32 42,31.1 44.7,29.2 47,29 48,28.5 49.5,27 50.2,26 51.5,24.3 51.6,24 55,22.7 55.7,22 55,20 52,19 48.8,18.3 46,17.3 43.3,16.6 42.8,16.4 40.5,19.5 39,21.5 37.2,24.8 35.3,28",
"Qatar":"50.8,25 51.2,26.1 51.6,25.9 51.5,24.6",
"Kuwait":"47,29 47.7,30 48.4,29.4 48,28.5",
"UAE":"51.6,24 54,24.2 56,26 56.4,24.9 55.7,22 55,22.7",
"Oman":"55.7,22 56.4,24.9 58.7,23.6 59.8,22.4 57.7,19 55,17 52,19 55,20",
"Yemen":"43.3,12.7 43,14 42.8,16.4 43.3,16.6 46,17.3 48.8,18.3 52,19 53.1,16.7 49,14 45,12.9",
"Cyprus":"32.3,35 34.5,35.6 33.5,34.7",
"Morocco":"-5.8,35.8 -2,35.2 -1.3,32 -3.5,31 -8.7,28.7 -8.7,27.7 -13,27.7 -11,29 -9.7,30 -9.8,32 -6.9,34",
"Western Sahara":"-8.7,27.7 -8.7,26 -12,26 -13,23 -13,21.3 -17,21.3 -16,23.8 -14.5,26 -13,27.7",
"Mauritania":"-17,21.3 -13,21.3 -13,23 -12,26 -8.7,26 -8.7,27.3 -4.8,25 -6,25 -5.5,16.3 -9.3,15.5 -12.2,14.8 -14,16.3 -16.5,16.2 -16.2,19 -16.5,19.5",
"Algeria":"-2,35.2 1,36.5 9,37.1 8.5,35 9.5,30.2 10,26.5 12,23.5 6,19.2 3.3,19 1.2,20.8 -4.8,25 -8.7,27.3 -8.7,28.7 -3.5,31 -1.3,32",
"Tunisia":"9,37.1 11,37 10.3,34 11.5,32.5 10.3,30.2 9.5,30.2 8.5,35",
"Libya":"11.5,33.1 15,32.3 19,30.4 20,32.7 25,31.6 25,22 24,19.5 16,23.4 14.2,22.6 12,23.5 10,26.5 9.5,30.2 10.3,30.2",
"Egypt":"25,31.6 29,31 32.2,31.3 34.3,31.3 35,29.4 34,27.8 33.6,28 32.6,29.9 35.5,24 37,22 25,22",
"Sudan":"25,22 37,22 38.6,18 37.5,17 36.5,14.5 36,12.7 34,10 33,10 31,9.8 27,9.5 24,8.7 22.8,11 22,12.7 24,15.5 24,19.5",
"South Sudan":"24,8.7 27,9.5 31,9.8 33,10 33,8 35,5 34,4.2 31,3.7 28.5,4.4 27,5.2 25,7",
"Eritrea":"36.5,14.5 37.5,17 38.6,18 43.2,12.5 42.5,12.5 40,14.5 38,14.5",
"Ethiopia":"36,12.7 36.5,14.5 38,14.5 40,14.5 42.5,12.5 42.5,11 43,11 44,9 47,8 48,8 45,5 42,4 40,4 39,3.5 36,4.5 35,5 33,8 33,10 34,10",
"Djibouti":"42.5,12.5 43.2,12.5 43.4,11.5 42.8,10.9",
"Somalia":"43,11 43.3,11.5 45,10.5 48,11.2 51,12 51,10.5 48,4.5 45,1.8 42,-1.7 41,-1.7 41,3.9 42,4 45,5 48,8 47,8 44,9",
"Kenya":"34,4.2 35,5 36,4.5 39,3.5 40,4 41,3.9 41,-1.7 39.2,-4.7 37.7,-3.5 34,-1 33.9,0",
"Uganda":"31,3.7 34,4.2 33.9,0 34,-1 30.5,-1 30,-1 29.7,0.5 31.3,2.2",
"Rwanda":"29,-1.4 30.5,-1 30.8,-2.3 30,-4.4 29.3,-4.4",
"Tanzania":"30.5,-1 34,-1 37.7,-3.5 39.2,-4.7 38.8,-6.5 39.5,-9 40.4,-10.5 37.5,-11.7 34.9,-11.5 34.5,-9.6 32.8,-9.3 31,-8.5 29.3,-6.5 29.3,-4.4 30,-4.4 30.8,-2.3",
"DR Congo":"12.3,-6 13,-4.8 14.5,-4.8 16,-3.5 16.2,-1 18,2 18.6,3.5 18.6,4.4 20.5,4.3 22.5,4.2 25,5 27,5.2 28.5,4.4 31,3.7 31.3,2.2 29.7,0.5 30,-1 29,-1.4 29.3,-4.4 29.3,-6.5 31,-8.5 28.7,-8.5 28.4,-9.3 29,-12.4 28,-12.3 27,-11.7 24,-11 22,-11 22,-9.8 21,-7.3 17,-7.5 16,-5.9",
"Congo":"11.2,-4 13,-4.8 14.5,-4.8 16,-3.5 16.2,-1 18,2 18.6,3.5 16,3.2 16,2 13.3,2.2 13,1.4 14,-0.5 14.2,-2 12,-2.5",
"Gabon":"9,-0.7 9.5,1 11.3,1 11.3,2.2 13.3,2.2 13,1.4 14,-0.5 14.2,-2 12,-2.5 11.2,-4",
"Equatorial Guinea":"9.6,1 9.8,2.3 11.3,2.2 11.3,1",
"Cameroon":"8.5,4.5 9.7,3 9.8,2.3 11.3,2.2 13.3,2.2 16,2 16,3.2 15,4 14.5,6.2 15.5,7.5 14,10 15,12 14.2,13 13.5,13 14,11.4 13,9 12,7 11,6.5 9.7,6",
"CAR":"14.5,6.2 15,4 16,3.2 18.6,3.5 18.6,4.4 20.5,4.3 22.5,4.2 25,5 27,5.2 25,7 24,8.7 22.8,11 21.5,10.8 19,9 15.5,7.5",
"Chad":"14.2,13 15,12 14,10 15.5,7.5 19,9 21.5,10.8 22.8,11 22,12.7 24,15.5 24,19.5 16,23.4 14.2,22.6 15.5,20 15.5,16.5 13.5,14",
"Niger":"3.6,11.7 3.7,12.7 7,13 9,12.8 12.5,13.2 13.5,13 14.2,13 13.5,14 15.5,16.5 15.5,20 14.2,22.6 12,23.5 6,19.2 3.3,19 3.3,15.5 0.2,14.9 1,13.3 2.8,12",
"Nigeria":"2.8,6.4 2.8,9 3.6,11.7 3.7,12.7 7,13 9,12.8 12.5,13.2 13.5,13 14,11.4 13,9 12,7 11,6.5 9.7,6 8.5,4.5 6,4.3 4.5,6.2",
"Benin":"1.6,6.2 1.5,9.5 0.9,11 2.8,12 3.6,11.7 2.8,9 2.8,6.4",
"Togo":"0.7,6 0.5,8 0,11.1 0.9,11 1.5,9.5 1.6,6.2",
"Ghana":"-3,5.1 -2.9,7 -2.8,11 0,11.1 0.5,8 0.7,6 -1,5.2",
"Burkina Faso":"-5.5,10.4 -5.5,11.3 -4.5,13.4 -2,14.5 0.2,14.9 1,13.3 2.8,12 0.9,11 0,11.1 -2.8,11 -3.2,9.9 -4.5,9.7",
"Mali":"-12.2,14.8 -9.3,15.5 -5.5,16.3 -6,25 -4.8,25 1.2,20.8 3.3,19 3.3,15.5 0.2,14.9 -2,14.5 -4.5,13.4 -5.5,11.3 -5.5,10.4 -8,10.2 -8.5,11.5 -11.4,12.2",
"Senegal":"-17.5,14.7 -16.5,16.2 -14,16.3 -12.2,14.8 -11.4,12.2 -13.7,12.7 -16.7,12.4",
"Gambia":"-16.8,13.5 -14,13.8 -14,13.4 -16.8,13.2",
"Guinea-Bissau":"-16.7,12.4 -13.7,12.7 -13.7,11.7 -15.5,11",
"Guinea":"-13.7,12.7 -11.4,12.2 -8.5,11.5 -8,10.2 -7.7,8.5 -9,7.4 -10,8.5 -12.8,9.3 -13.3,9.7 -15,10.8 -15.5,11 -13.7,11.7",
"Sierra Leone":"-13.3,9.7 -12.8,9.3 -10,8.5 -11.4,7 -13.3,8.2",
"Liberia":"-11.4,7 -10,8.5 -9,7.4 -8.3,6.7 -7.5,4.4 -9,5.2",
"Ivory Coast":"-7.5,4.4 -8.3,6.7 -7.7,8.5 -8,10.2 -5.5,10.4 -4.5,9.7 -3.2,9.9 -2.8,11 -2.9,7 -3,5.1 -5,5.2",
"Angola":"12.3,-6 16,-5.9 17,-7.5 21,-7.3 22,-9.8 22,-11 24,-11 24,-13 22,-13 22,-16.5 23.4,-17.6 21,-18 13.9,-17.4 11.8,-17.3 13.5,-12.5 13.5,-10 13,-8",
"Zambia":"22,-13 24,-13 24,-11 27,-11.7 28,-12.3 29,-12.4 28.4,-9.3 28.7,-8.5 31,-8.5 32.8,-9.3 33.5,-11 33,-14 30.2,-15.6 28,-16 25.2,-17.8 23.4,-17.6 22,-16.5",
"Malawi":"33,-9.5 34.5,-9.6 35,-11.5 34,-13 35.8,-15 35,-17 34,-15 33,-14 33.5,-11",
"Mozambique":"34.9,-11.5 37.5,-11.7 40.4,-10.5 40.7,-15 36.9,-18 35,-20 35.5,-24 32.9,-25.9 32.8,-26.9 32,-26 32,-24 33,-20 32.7,-18 30.3,-16 30.2,-15.6 33,-14 34,-15 35,-17 35.8,-15 34,-13 35,-11.5",
"Zimbabwe":"25.2,-17.8 28,-16 30.2,-15.6 30.3,-16 32.7,-18 33,-20 31.3,-22.4 29.3,-22.2 27,-20.5",
"Botswana":"20,-22 20,-18.3 23.4,-17.6 25.2,-17.8 27,-20.5 29.3,-22.2 26.8,-24.7 25.5,-25.7 23,-25.3 20,-24.8",
"Namibia":"11.8,-17.3 13.9,-17.4 21,-18 23.4,-17.6 20,-18.3 20,-22 20,-28.4 17,-28.7 15,-26 14.5,-22.5",
"South Africa":"17,-28.7 20,-28.4 20,-24.8 23,-25.3 25.5,-25.7 26.8,-24.7 29.3,-22.2 31.3,-22.4 32,-24 32,-26 32.8,-26.9 32.4,-29 30,-31.5 27,-33.9 25,-34 20,-34.8 18.4,-34.2 18.2,-32",
"Lesotho":"27.2,-29.5 28.5,-28.7 29.4,-29.4 28.2,-30.5",
"Eswatini":"31,-26.4 31.9,-25.9 32,-27 31.2,-27.3",
"Madagascar":"49.3,-12 50.4,-15.5 47,-25 45,-25.5 43.7,-23.5 44.4,-20 44,-17 47,-15",
"Australia":"114,-22 116.8,-20.7 119,-20 122,-18 122.5,-16.8 124,-16 125.5,-14.5 127,-14 128.5,-14.9 129.7,-14.9 130.8,-12.4 132.5,-11.3 136.8,-12 136,-13.5 135.5,-15 139,-17.3 140.8,-17.5 141.7,-13 142.5,-10.8 143.8,-14.5 145.4,-15 146.2,-19 148.8,-20.5 150.8,-23.5 153,-25.5 153.6,-28.5 152.5,-32.5 150.2,-36.5 149.9,-37.5 146.5,-39 144.5,-38.2 140.5,-38 138,-35.5 137.8,-33 136,-35 135,-33.5 133,-32 131,-31.5 126,-32.3 123.5,-34 120,-34 118,-35 115,-34.3 115.7,-31.5 114,-27 113.5,-24|144.8,-40.7 148.2,-41 147.5,-43.2 146,-43.5",
"New Zealand":"172.7,-34.5 174.5,-36.5 175.7,-37 178.4,-37.7 177,-39.5 175.3,-41.6 174.8,-39.5 174.5,-37|172.7,-40.5 174.3,-41.7 172.8,-43.7 170.8,-45.9 168.5,-46.6 166.5,-46 168,-44.3"
};
// great lakes etc, cut out in white
var lakes=["-92,46.7 -89,48.3 -86,48.7 -84.7,46.8 -87,46.5","-88,42 -87,46 -85,46 -86.3,43","-84.5,46 -81,46 -80,44.5 -82,43 -83.5,44","-83.5,41.7 -79,43 -78.9,42.8 -81.5,41.5","-79.7,43.3 -76.3,44.1 -76.2,43.5 -79,43.2","-71.9,10.9 -71.2,10.9 -71.5,9.5","34.3,-10 34.9,-11.5 34.6,-14 34.2,-12.5"];
// these share no land border so they can be drawn rounded
var roundedIslands=["Greenland","Australia","Iceland","Svalbard","Madagascar","Sri Lanka","Taiwan","Cuba","Ireland","Philippines","Pacific Islands","Cyprus","Japan","New Zealand"];
var roundedOtherRings=["Canada","USA","Russia","China","Italy","Greece","Denmark","France"];

var svg=d3.select("svg");

// faint logo behind the map
var logo=svg.append("g").attr("id","watermark");
logo.append("path").attr("transform","translate(547,448)")
    .attr("d",d3.arc().innerRadius(155).outerRadius(196).startAngle(-Math.PI*0.72).endAngle(Math.PI*1.1)())
    .attr("fill","#f8fbfd");
logo.append("path").attr("d","M427,445 L720,270 L700,400 L560,470 L620,530 L365,657 L520,480 Z").attr("fill","#f8f8f9");

// rotated so Chukotka stays in one piece
var projection=d3.geoMercator().rotate([-11,0]).scale(167).translate([550,520]);
var straight=d3.line().curve(d3.curveLinearClosed);
var rounded=d3.line().curve(d3.curveCatmullRomClosed.alpha(0.5));

function ringsPath(s,name){
    return s.split("|").map(function(r,i){
        var pts=r.trim().split(" ").map(function(p){
            return projection(p.split(",").map(Number));
        });
        var round=roundedIslands.indexOf(name)>=0||(i>0&&roundedOtherRings.indexOf(name)>=0);
        return (round?rounded:straight)(pts);
    }).join("");
}

var colour=d3.scaleThreshold().domain(breaks.slice(1,-1)).range(colours);

var map=svg.append("g").attr("id","map");
map.selectAll("path.country").data(countries).join("path")
    .attr("class","country")
    .attr("d",function(d){return ringsPath(outlines[d],d);})
    .attr("fill",function(d,i){return kwh[i]===null?noDataColour:colour(kwh[i]);})
    .attr("stroke","#111")
    .attr("stroke-width",1.5)
    .attr("stroke-linejoin","round");
map.selectAll("path.lake").data(lakes).join("path")
    .attr("class","lake")
    .attr("d",function(d){return ringsPath(d,"lake");})
    .attr("fill","#fff")
    .attr("stroke","#111")
    .attr("stroke-width",1.3)
    .attr("stroke-linejoin","round");

// legend
var legendX=d3.scalePoint().domain(breaks).range([158,1017]);
var legendTop=814,legendBottom=851.5;
var legend=svg.append("g").attr("id","legend");
legend.selectAll("rect.cell").data(colours).join("rect")
    .attr("class","cell")
    .attr("x",function(d,i){return legendX(breaks[i]);})
    .attr("y",legendTop)
    .attr("width",function(d,i){return legendX(breaks[i+1])-legendX(breaks[i]);})
    .attr("height",legendBottom-legendTop)
    .attr("fill",function(d){return d;})
    .attr("stroke","#111")
    .attr("stroke-width",1.2);
legend.append("line").attr("x1",158).attr("x2",1017).attr("y1",legendTop-1).attr("y2",legendTop-1).attr("stroke","#888").attr("stroke-width",1);
legend.append("line").attr("x1",158).attr("x2",1017).attr("y1",legendBottom).attr("y2",legendBottom).attr("stroke","#111").attr("stroke-width",2);

function tier(values,tickLen,pad){
    var g=legend.append("g").attr("transform","translate(0,"+legendTop+")")
        .call(d3.axisTop(legendX).tickValues(values).tickSize(tickLen).tickPadding(pad)
            .tickFormat(function(d){return d3.format(",")(d)+" kWh";}));
    g.select(".domain").remove();
    g.selectAll("line").attr("stroke","#111").attr("stroke-width",1.1);
    g.selectAll("text").attr("fill","#111").style("font-family","Lato").style("font-size","27px").style("letter-spacing","-0.4px")
        .attr("dx",function(d){return d===500000?-9:(d===100000?-3:0);});
}
tier(majorTicks,41,7);
tier(minorTicks,9,8);

// no data box
var defs=svg.append("defs");
var hatch=defs.append("pattern").attr("id","hatch").attr("patternUnits","userSpaceOnUse")
    .attr("width",9).attr("height",9).attr("patternTransform","rotate(20)");
hatch.append("line").attr("x1",4).attr("x2",4).attr("y1",0).attr("y2",9).attr("stroke","#000").attr("stroke-width",1.5);
legend.append("rect").attr("x",33).attr("y",814).attr("width",81).attr("height",37)
    .attr("fill","url(#hatch)").attr("stroke","#111").attr("stroke-width",1.3);
legend.append("text").attr("x",73.5).attr("y",797).attr("text-anchor","middle")
    .attr("fill","#111").style("font-size","27px").style("letter-spacing","1px").style("word-spacing","5px").text("NO DATA");

svg.append("text").attr("x",546).attr("y",878).attr("text-anchor","middle")
    .attr("fill","#bdbdbd").style("font-size","11.2px").text("Copyright © Save My Exams. All Rights Reserved");
</script>
</body>
</html>
